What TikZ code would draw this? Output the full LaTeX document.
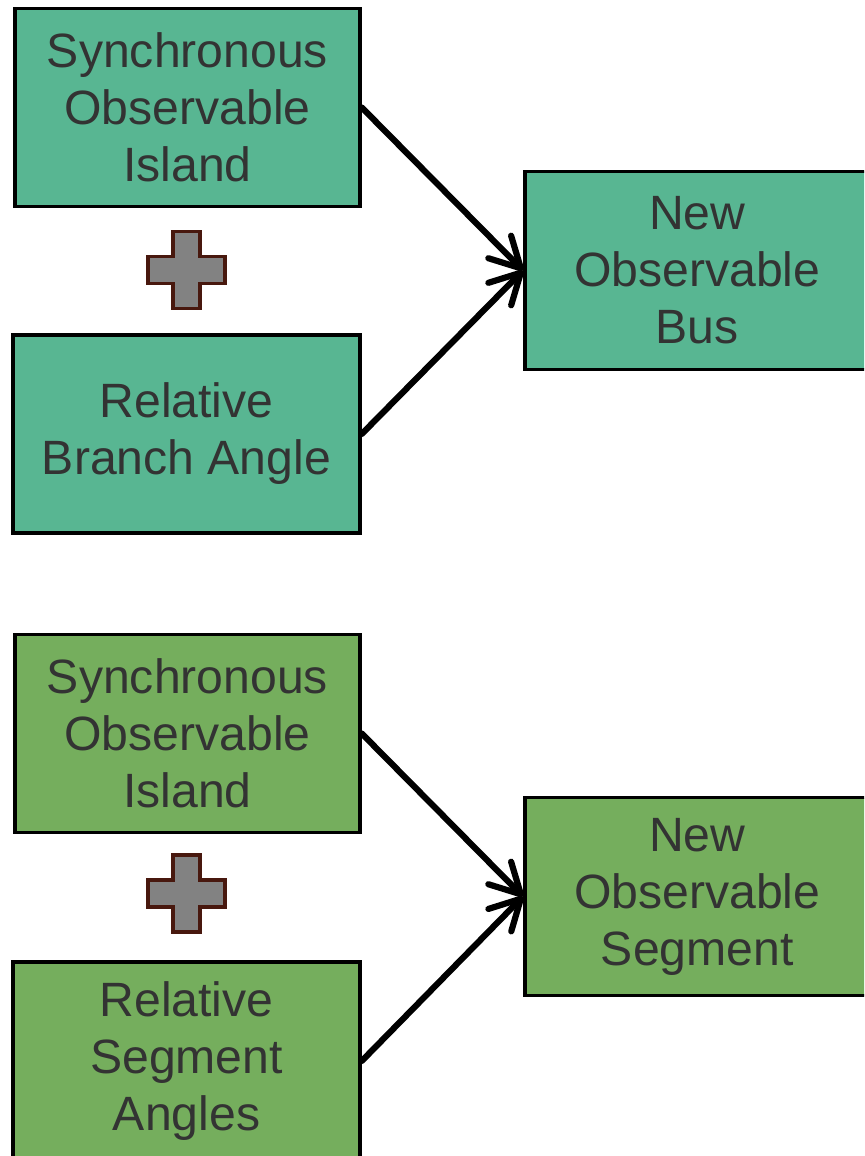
\documentclass[tikz,border=0pt]{standalone}
\usepackage{fontspec}
\setmainfont{Liberation Sans}
\usetikzlibrary{arrows.meta}
\definecolor{busfill}{RGB}{88,182,146}
\definecolor{segfill}{RGB}{117,174,93}
\definecolor{txtgray}{RGB}{51,51,51}
\definecolor{plusedge}{RGB}{72,24,14}
\tikzset{
    block/.style={draw=black,line width=0.035cm,align=center,text=txtgray,
        minimum width=3.45cm,minimum height=1.98cm,inner sep=0pt,
        font=\fontsize{13.7}{16.2}\selectfont},
    busblock/.style={block,fill=busfill},
    segblock/.style={block,fill=segfill},
    link/.style={line width=0.062cm,line cap=round,
        -{Straight Barb[round,length=0.3cm,width=0.32cm]}},
    plussign/.style={fill=gray!98!white,draw=plusedge,line width=0.035cm,line join=miter}
}
\newcommand{\plusat}[1]{
    \path[plussign] (#1) ++(-0.135,0.385) -- ++(0.27,0) -- ++(0,-0.25) -- ++(0.25,0)
        -- ++(0,-0.27) -- ++(-0.25,0) -- ++(0,-0.25) -- ++(-0.27,0) -- ++(0,0.25)
        -- ++(-0.25,0) -- ++(0,0.27) -- ++(0.25,0) -- cycle;
}

\begin{document}
\begin{tikzpicture}
    \useasboundingbox (0,0) rectangle (8.64,-11.56);
    \clip (0,0) rectangle (8.64,-11.56);

    \node[busblock] (island1) at (1.875,-1.075) {Synchronous\\Observable\\Island};
    \node[busblock,minimum width=3.47cm] (branch) at (1.865,-4.34) {Relative\\Branch Angle};
    \node[busblock,anchor=west] (bus) at (5.23,-2.705) {New\\Observable\\Bus};
    \coordinate (plus1) at (1.865,-2.70);
    \plusat{plus1}

    \node[segblock] (island2) at (1.875,-7.335) {Synchronous\\Observable\\Island};
    \node[segblock,minimum width=3.47cm] (angles) at (1.865,-10.61) {Relative\\Segment\\Angles};
    \node[segblock,anchor=west] (segment) at (5.23,-8.965) {New\\Observable\\Segment};
    \coordinate (plus2) at (1.865,-8.935);
    \plusat{plus2}

    \draw[link] (island1.east) -- (bus.west);
    \draw[link] (branch.east) -- (bus.west);
    \draw[link] (island2.east) -- (segment.west);
    \draw[link] (angles.east) -- (segment.west);
\end{tikzpicture}
\end{document}
